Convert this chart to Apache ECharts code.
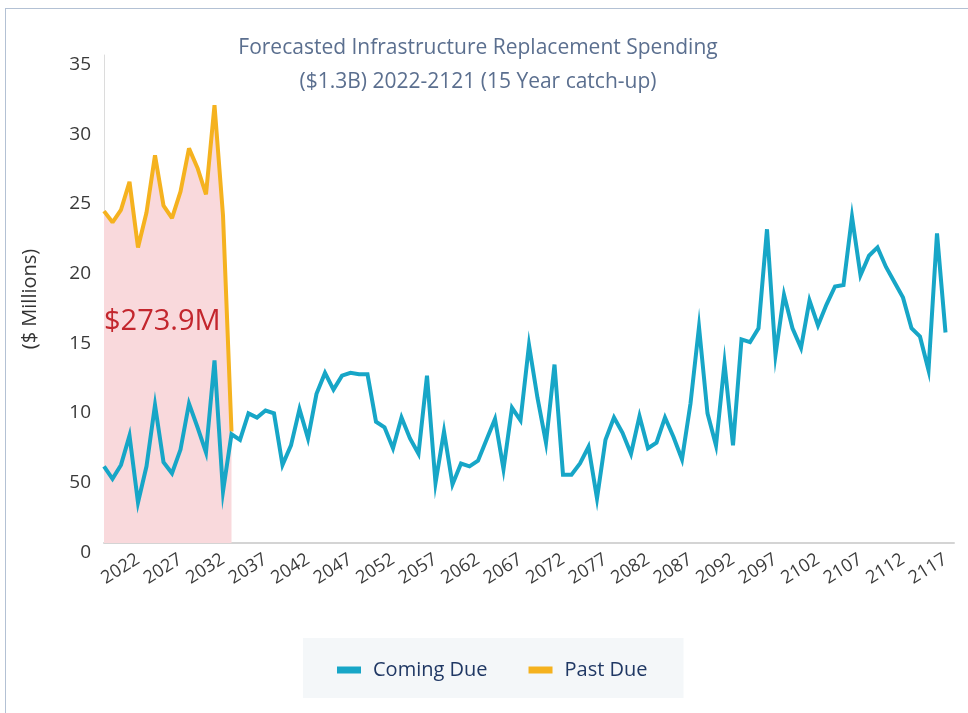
<!DOCTYPE html>
<html>
<head>
<meta charset="utf-8">
<script src="https://cdn.jsdelivr.net/npm/echarts@6/dist/echarts.min.js"></script>
<style>
  html, body { margin: 0; padding: 0; background: #fff; }
  #wrap { position: relative; width: 968px; height: 713px; }
  /* card frame on the left / top */
  #frame { position: absolute; left: 5px; top: 8px; right: -2px; bottom: -2px;
           border-left: 1px solid #b3c1d4; border-top: 1px solid #b3c1d4; }
  #main { position: absolute; left: 0; top: 0; width: 968px; height: 713px; }
</style>
</head>
<body>
<div id="wrap">
  <div id="frame"></div>
  <div id="main"></div>
</div>
<script>
  // years on the x axis (one extra empty year at the end of the axis)
  const years = [];
  for (let y = 2018; y <= 2118; y++) years.push(String(y));

  // $ millions
  const comingDue = [
    5.5, 4.6, 5.6, 7.7, 2.9, 5.5, 9.9, 5.8, 5.0, 6.7,
    10.0, 8.3, 6.5, 13.1, 3.7, 7.8, 7.4, 9.3, 9.0, 9.5,
    9.3, 5.6, 7.0, 9.6, 7.5, 10.7, 12.2, 11.0, 12.0, 12.2,
    12.1, 12.1, 8.7, 8.3, 6.8, 9.0, 7.5, 6.4, 12.0, 4.3,
    8.0, 4.2, 5.7, 5.5, 5.9, 7.4, 8.9, 5.3, 9.7, 8.8,
    14.2, 10.4, 7.2, 12.8, 4.9, 4.9, 5.7, 6.9, 3.2, 7.4,
    9.0, 7.9, 6.4, 9.1, 6.8, 7.2, 9.0, 7.6, 6.0, 10.0,
    15.5, 9.3, 7.0, 12.9, 7.0, 14.6, 14.4, 15.4, 22.5, 13.5,
    17.8, 15.4, 14.0, 17.4, 15.6, 17.1, 18.4, 18.5, 23.4, 19.2,
    20.6, 21.2, 19.8, 18.7, 17.6, 15.4, 14.8, 12.4, 22.2, 15.1
  ];
  const pastDue = [
    23.8, 23.0, 23.9, 25.9, 21.2, 23.7, 27.8, 24.2, 23.3, 25.2,
    28.3, 26.9, 25.0, 31.4, 23.5, 8.0
  ];

  const yTickLabels = ['0', '50', '10', '15', '20', '25', '30', '35'];
  const titleLines = [
    'Forecasted Infrastructure Replacement Spending',
    '($1.3B) 2022-2121 (15 Year catch-up)'
  ];
  const catchUpTotal = '$273.9M';

  const BLUE = '#17a6c7';
  const ORANGE = '#f5b21f';
  const FONT = '"Open Sans", "DejaVu Sans", sans-serif';

  const chart = echarts.init(document.getElementById('main'), null, { renderer: 'canvas' });

  chart.setOption({
    animation: false,
    textStyle: { fontFamily: FONT },
    grid: { left: 104, right: 14, top: 55, bottom: 170 },
    graphic: [
      {
        type: 'text', x: 478, y: 48, z: 10,
        style: { text: titleLines[0], fill: '#5b6f8f', fontSize: 21, fontFamily: FONT,
                 align: 'center', verticalAlign: 'middle' }
      },
      {
        type: 'text', x: 478, y: 82, z: 10,
        style: { text: titleLines[1], fill: '#5b6f8f', fontSize: 21, fontFamily: FONT,
                 align: 'center', verticalAlign: 'middle' }
      },
      {
        type: 'text', x: 104, y: 322, z: 10,
        style: { text: catchUpTotal, fill: '#c3262d', fontSize: 29, fontFamily: FONT,
                 align: 'left', verticalAlign: 'middle' }
      }
    ],
    legend: {
      data: ['Coming Due', 'Past Due'],
      left: 303,
      top: 638,
      padding: [22, 36, 18, 34],
      backgroundColor: '#f4f7f9',
      itemGap: 41,
      itemWidth: 24,
      itemHeight: 7,
      icon: 'rect',
      textStyle: { fontSize: 20, color: '#203864', fontFamily: FONT, padding: [0, 0, 0, 7] }
    },
    xAxis: {
      type: 'category',
      data: years,
      boundaryGap: false,
      axisLine: { lineStyle: { color: '#d4d4d4', width: 2 } },
      axisTick: { show: false },
      splitLine: { show: false },
      axisLabel: {
        rotate: 32,
        margin: 15,
        fontSize: 18,
        color: '#3a3a3a',
        interval: function (index, value) { return Number(value) % 5 === 2; }
      }
    },
    yAxis: {
      type: 'value',
      min: 0,
      max: 35,
      interval: 5,
      name: '($ Millions)',
      nameLocation: 'middle',
      nameGap: 64,
      nameTextStyle: { fontSize: 20, color: '#333' },
      axisLine: { show: true, lineStyle: { color: '#dcdcdc', width: 1 } },
      axisTick: { show: false },
      splitLine: { show: false },
      axisLabel: {
        margin: 13,
        fontSize: 19,
        color: '#3a3a3a',
        verticalAlign: 'top',
        lineHeight: 19,
        formatter: function (v) { return yTickLabels[Math.round(v / 5)]; }
      }
    },
    series: [
      {
        name: 'Coming Due',
        type: 'line',
        data: comingDue,
        z: 4,
        symbol: 'none',
        color: BLUE,
        lineStyle: { color: BLUE, width: 4, join: 'miter' }
      },
      {
        name: 'Past Due',
        type: 'line',
        data: pastDue,
        z: 2,
        symbol: 'none',
        color: ORANGE,
        lineStyle: { color: ORANGE, width: 4 },
        areaStyle: { color: '#f9d9dc', opacity: 1 }
      }
    ]
  });
</script>
</body>
</html>
